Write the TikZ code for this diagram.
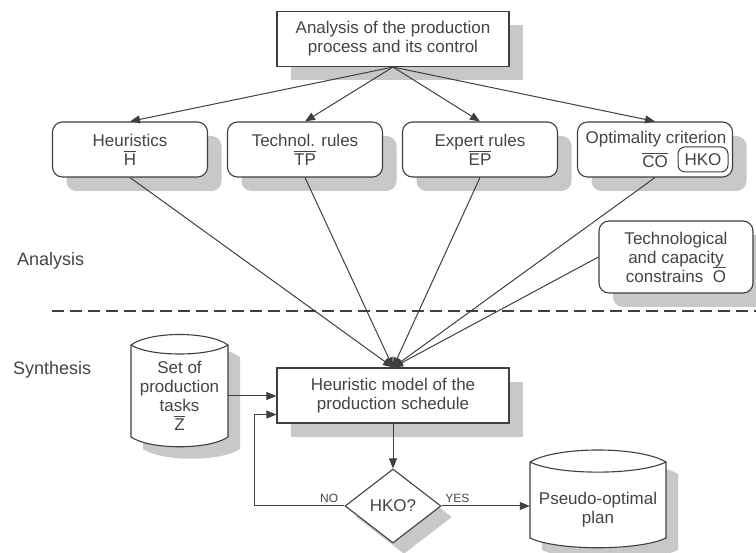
\documentclass[tikz,border=0pt]{standalone}
\usepackage{amsmath}
\usepackage{fontspec}
\setmainfont{Liberation Sans}
\usetikzlibrary{positioning,calc,shapes.geometric,shadows,arrows.meta}
\definecolor{linegray}{HTML}{3F3F3F}
\definecolor{textgray}{HTML}{444444}
\definecolor{shadowgray}{HTML}{C8C8CA}
\newcommand{\ovl}[1]{$\overline{\text{#1}}$}

\begin{document}
\begin{tikzpicture}[x=1pt,y=-1pt,
    every node/.style={text=textgray,font=\fontsize{17}{19}\selectfont,align=center},
    flowbox/.style={draw=linegray,line width=1.1pt,fill=white,minimum width=232pt,minimum height=55pt,
        drop shadow={shadow xshift=14pt,shadow yshift=-14pt,fill=shadowgray,opacity=1}},
    rulebox/.style={flowbox,rounded corners=10pt,minimum width=155pt},
    sidelbl/.style={anchor=west,inner sep=0pt,font=\fontsize{18}{20}\selectfont},
    smalllbl/.style={font=\fontsize{12}{14}\selectfont},
    conn/.style={draw=linegray,line width=1pt},
    arr/.style={conn,-{Triangle[length=10pt,width=8pt]}}]

    \useasboundingbox (0,0) rectangle (756,553);

    \coordinate (sepL) at (52,311);
    \coordinate (sepR) at (756,311);

    \node[flowbox] (analysis) at (393,39) {Analysis of the production\\process and its control};

    \node[rulebox] (heur) at (130,149.5) {Heuristics\\\ovl{H}};
    \node[rulebox] (tech) at (305,149.5) {Technol. rules\\\ovl{TP}};
    \node[rulebox] (expert) at (480,149.5) {Expert rules\\\ovl{EP}};
    \node[rulebox] (optim) at (655,149.5) {};
    \node (optimtxt) at (656,139) {Optimality criterion};
    \node (co) at (655,160) {\ovl{CO}};
    \node[draw=linegray,line width=1pt,rounded corners=7pt,minimum width=50pt,minimum height=25pt,inner sep=0pt] (hko) at (703,159.5) {HKO};

    \node[rulebox,minimum width=154pt,minimum height=72pt] (constr) at (676,257) {Technological\\and capacity\\constrains\ \ \ovl{O}};

    \node[sidelbl] (lblana) at (17,261) {Analysis};
    \node[sidelbl] (lblsyn) at (13,370) {Synthesis};

    \draw[linegray,line width=2.2pt,dash pattern=on 12pt off 6pt] (sepL) -- (sepR);

    \node[flowbox] (model) at (393,395.5) {Heuristic model of the\\production schedule};

    \node[diamond,draw=linegray,line width=1.1pt,fill=white,minimum width=96pt,minimum height=74pt,inner sep=0pt,
        drop shadow={shadow xshift=11pt,shadow yshift=-11pt,fill=shadowgray,opacity=1}] (check) at (393,506) {HKO?};

    \fill[shadowgray,shift={(12,12)}] (131,345) .. controls (150,331) and (209,331) .. (228,345) -- (228,437)
        .. controls (209,450) and (150,450) .. (131,437) -- cycle;
    \filldraw[fill=white,draw=linegray,line width=1.1pt] (131,345) .. controls (150,331) and (209,331) .. (228,345) -- (228,437)
        .. controls (209,450) and (150,450) .. (131,437) -- cycle;
    \draw[linegray,line width=1.1pt] (131,345) .. controls (150,357) and (209,357) .. (228,345);
    \node[minimum width=97pt,inner sep=0pt] (tasks) at (179.5,396) {Set of\\production\\tasks\\\ovl{Z}};

    \fill[shadowgray,shift={(12,12)}] (530,462) .. controls (557,446) and (639,446) .. (666,462) -- (666,538)
        .. controls (639,551) and (557,551) .. (530,538) -- cycle;
    \filldraw[fill=white,draw=linegray,line width=1.1pt] (530,462) .. controls (557,446) and (639,446) .. (666,462) -- (666,538)
        .. controls (639,551) and (557,551) .. (530,538) -- cycle;
    \draw[linegray,line width=1.1pt] (530,462) .. controls (557,475.5) and (639,475.5) .. (666,462);
    \node[minimum width=136pt,inner sep=0pt] (plan) at (598,510) {Pseudo-optimal\\plan};

    \draw[arr] (analysis.south) -- (heur.north);
    \draw[arr] (analysis.south) -- (tech.north);
    \draw[arr] (analysis.south) -- (expert.north);
    \draw[arr] (analysis.south) -- (optim.north);

    \draw[arr] (heur.south) -- (model.north);
    \draw[arr] (tech.south) -- (model.north);
    \draw[arr] (expert.south) -- (model.north);
    \draw[arr] (optim.south) -- (model.north);
    \draw[arr] (constr.west) -- (model.north);

    \draw[arr] (tasks.east) -- (tasks.east -| model.west);
    \draw[arr] (model.south) -- (check.north);
    \draw[arr] (check.west) -- ++(-90,0) node[pos=0.17,above,smalllbl] {NO} |- ($(model.south west)+(0,-9)$);
    \draw[arr] (check.east) -- node[pos=0.18,above,smalllbl] {YES} (check.east -| plan.west);
\end{tikzpicture}
\end{document}
